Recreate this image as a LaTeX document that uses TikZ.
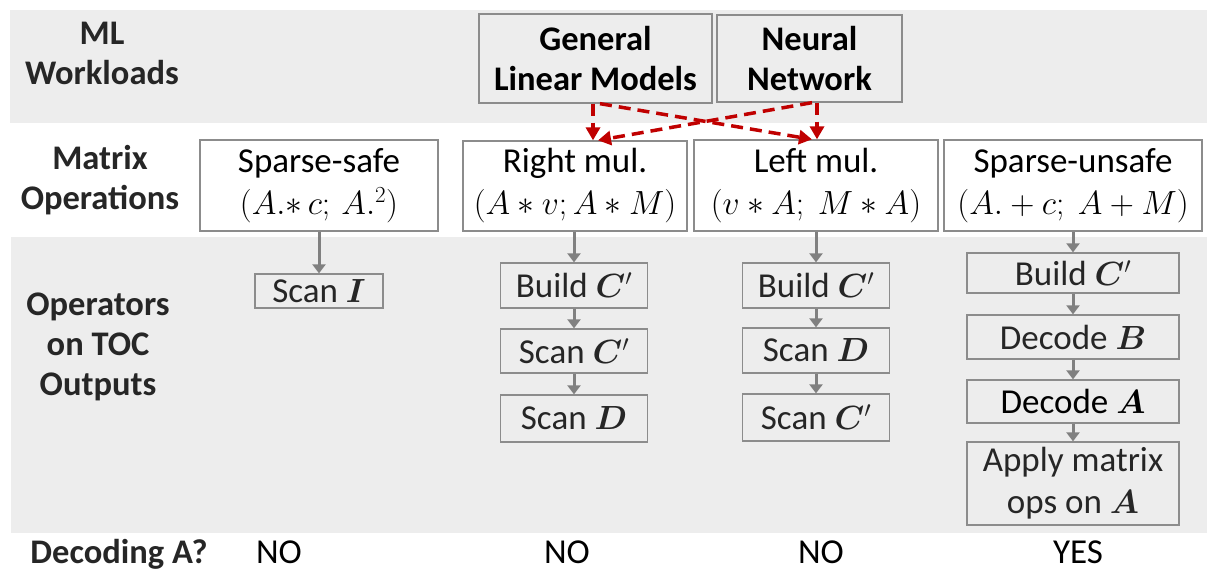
\documentclass[tikz,border=0pt]{standalone}
\usepackage{fix-cm}
\usepackage{amsmath,bm}
\usepackage{fontspec}
\setmainfont{Carlito}
\usetikzlibrary{arrows.meta}
\DeclareMathSizes{35}{33.5}{23}{17}
\definecolor{bandgray}{HTML}{EDEDED}
\definecolor{boxgray}{HTML}{8C8C8C}
\definecolor{arrgray}{HTML}{808080}
\definecolor{darkred}{HTML}{C00000}
\definecolor{txt}{HTML}{262626}
\newcommand{\fsz}{\fontsize{35}{42}\selectfont}
\newcommand{\fsb}{\fontsize{34.5}{40}\selectfont\bfseries}
\tikzset{
  box/.style={draw=boxgray, line width=1.3pt, inner sep=0pt, align=center, font=\fsz, text=black},
  mopbox/.style={box, fill=white},
  opbox/.style={box, fill=bandgray, text=txt},
  lbl/.style={font=\fsb, align=center, text=txt},
  ans/.style={font=\fsz, text=black, anchor=base},
  garrow/.style={draw=arrgray, line width=3pt, -{Triangle[length=9pt,width=13pt]}},
  rarrow/.style={draw=darkred, line width=3.5pt, dash pattern=on 12pt off 7pt, -{Triangle[length=13pt,width=14pt]}}
}
\begin{document}
\begin{tikzpicture}[x=1pt,y=-1pt]
\useasboundingbox (0,0) rectangle (1207,571);
% bands
\fill[bandgray] (10,10) rectangle (1207,123);
\fill[bandgray] (11,237) rectangle (1207,533);
% row labels
\node[lbl] (lml) at (102,53) {ML\\Workloads};
\node[lbl] (lmo) at (100,180) {Matrix\\Operations};
\node[lbl] (lop) at (98,347) {Operators\\on TOC\\Outputs};
\node[lbl, anchor=base] (ldec) at (119,563) {Decoding A?};
% workloads
\node[box, font=\fsb, fill=bandgray, minimum width=233pt, minimum height=89pt] (glm) at (595.5,58.5) {General\\Linear Models};
\node[box, font=\fsb, fill=bandgray, minimum width=185pt, minimum height=87pt] (nn) at (809.5,58.5) {Neural\\Network};
% matrix operations
\node[mopbox, minimum width=238pt, minimum height=91pt] (ss) at (319,185.5) {Sparse-safe\\$(A.{\ast}\,c;\,A.^{2})$};
\node[mopbox, minimum width=224pt, minimum height=90pt] (rm) at (575,186) {Right mul.\\$(A\ast v; A\ast M)$};
\node[mopbox, minimum width=244pt, minimum height=91pt] (lm) at (816,185.5) {Left mul.\\$(v\ast A;\ M\ast A)$};
\node[mopbox, minimum width=258pt, minimum height=91pt] (su) at (1073,185.5) {Sparse-unsafe\\$(A.+c;\ A+M)$};
% operators col 1
\node[opbox, minimum width=128pt, minimum height=34pt] (c1a) at (319,291) {Scan $\boldsymbol{I}$};
% col 2
\node[opbox, minimum width=147pt, minimum height=45pt] (c2a) at (574,285.5) {Build $\boldsymbol{C}'$};
\node[opbox, minimum width=147pt, minimum height=44pt] (c2b) at (574,351) {Scan $\boldsymbol{C}'$};
\node[opbox, minimum width=147pt, minimum height=47pt] (c2c) at (574,418.5) {Scan $\boldsymbol{D}$};
% col 3
\node[opbox, minimum width=147pt, minimum height=45pt] (c3a) at (816,285.5) {Build $\boldsymbol{C}'$};
\node[opbox, minimum width=147pt, minimum height=45pt] (c3b) at (816,350.5) {Scan $\boldsymbol{D}$};
\node[opbox, minimum width=147pt, minimum height=47pt] (c3c) at (816,417.5) {Scan $\boldsymbol{C}'$};
% col 4
\node[opbox, minimum width=212pt, minimum height=40pt] (c4a) at (1073,273) {Build $\boldsymbol{C}'$};
\node[opbox, minimum width=212pt, minimum height=44pt] (c4b) at (1073,337) {Decode $\boldsymbol{B}$};
\node[opbox, minimum width=212pt, minimum height=43pt, text=black] (c4c) at (1073,401.5) {Decode $\boldsymbol{A}$};
\node[opbox, minimum width=212pt, minimum height=83pt] (c4d) at (1073,483.5) {Apply matrix\\ops on $\boldsymbol{A}$};
% answers
\node[ans] (a1) at (279,563) {NO};
\node[ans] (a2) at (567,563) {NO};
\node[ans] (a3) at (821,563) {NO};
\node[ans] (a4) at (1078,563) {YES};
% gray arrows
\draw[garrow] (ss.south) -- (c1a.north);
\draw[garrow] (c2a.north |- rm.south) -- (c2a.north);
\draw[garrow] (c2a) -- (c2b);
\draw[garrow] (c2b) -- (c2c);
\draw[garrow] (c3a.north |- lm.south) -- (c3a.north);
\draw[garrow] (c3a) -- (c3b);
\draw[garrow] (c3b) -- (c3c);
\draw[garrow] (su.south) -- (c4a.north);
\draw[garrow] (c4a) -- (c4b);
\draw[garrow] (c4b) -- (c4c);
\draw[garrow] (c4c) -- (c4d);
% red dashed arrows
\draw[rarrow] ([xshift=-2.5pt]glm.south) -- ([xshift=-2.5pt]glm.south |- rm.north);
\draw[rarrow] ([xshift=4.5pt]glm.south) -- ([xshift=-4pt]lm.north);
\draw[rarrow] ([xshift=7.5pt]nn.south) -- ([xshift=7.5pt]nn.south |- lm.north);
\draw[rarrow] ([xshift=2.5pt]nn.south) -- ([xshift=23pt]rm.north);
\end{tikzpicture}
\end{document}
